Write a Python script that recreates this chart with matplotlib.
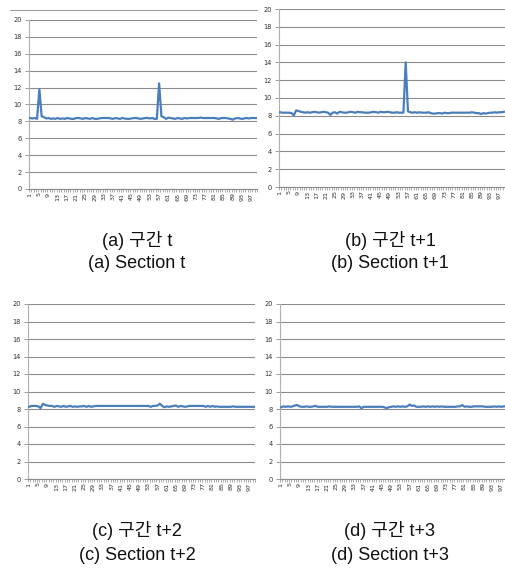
import matplotlib
matplotlib.use("Agg")
import matplotlib.pyplot as plt
from matplotlib.lines import Line2D
import numpy as np

W, H = 506, 569
DPI = 100

x_idx = list(range(1, 100))
tick_labels = [str(i) for i in range(1, 100, 4)]

sec_t = [8.4, 8.35, 8.4, 8.3, 11.8, 8.6, 8.5, 8.35, 8.4, 8.3,
         8.35, 8.3, 8.4, 8.3, 8.35, 8.3, 8.4, 8.35, 8.3, 8.3,
         8.4, 8.4, 8.35, 8.3, 8.4, 8.35, 8.3, 8.4, 8.3, 8.3,
         8.35, 8.4, 8.4, 8.4, 8.4, 8.35, 8.3, 8.4, 8.35, 8.3,
         8.4, 8.35, 8.3, 8.3, 8.35, 8.4, 8.4, 8.35, 8.3, 8.35,
         8.4, 8.4, 8.35, 8.4, 8.3, 8.3, 12.5, 8.6, 8.5, 8.3,
         8.45, 8.4, 8.35, 8.3, 8.4, 8.35, 8.3, 8.4, 8.35, 8.4,
         8.4, 8.4, 8.4, 8.4, 8.45, 8.4, 8.4, 8.4, 8.4, 8.4,
         8.4, 8.35, 8.3, 8.4, 8.4, 8.4, 8.35, 8.3, 8.2, 8.35,
         8.4, 8.35, 8.3, 8.35, 8.4, 8.35, 8.4, 8.4, 8.4]

sec_t1 = [8.4, 8.35, 8.35, 8.35, 8.35, 8.3, 8.05, 8.6, 8.55, 8.45,
          8.4, 8.35, 8.4, 8.35, 8.4, 8.45, 8.4, 8.35, 8.4, 8.45,
          8.4, 8.35, 8.1, 8.35, 8.4, 8.25, 8.45, 8.4, 8.35, 8.35,
          8.4, 8.45, 8.4, 8.35, 8.45, 8.4, 8.4, 8.35, 8.35, 8.35,
          8.4, 8.45, 8.4, 8.35, 8.45, 8.4, 8.4, 8.45, 8.4, 8.35,
          8.35, 8.4, 8.35, 8.35, 8.35, 14.0, 8.5, 8.4, 8.35, 8.4,
          8.35, 8.4, 8.35, 8.35, 8.35, 8.4, 8.3, 8.25, 8.25, 8.3,
          8.3, 8.25, 8.35, 8.3, 8.3, 8.35, 8.35, 8.35, 8.35, 8.35,
          8.35, 8.35, 8.35, 8.35, 8.4, 8.35, 8.3, 8.3, 8.2, 8.3,
          8.25, 8.3, 8.35, 8.35, 8.4, 8.35, 8.4, 8.4, 8.45]

sec_t2 = [8.25, 8.35, 8.35, 8.35, 8.3, 8.1, 8.6, 8.45, 8.4, 8.35,
          8.35, 8.25, 8.35, 8.3, 8.25, 8.35, 8.25, 8.3, 8.35, 8.25,
          8.3, 8.25, 8.3, 8.3, 8.35, 8.25, 8.35, 8.25, 8.3, 8.35,
          8.35, 8.35, 8.35, 8.35, 8.35, 8.35, 8.35, 8.35, 8.35, 8.35,
          8.35, 8.35, 8.35, 8.35, 8.35, 8.35, 8.35, 8.35, 8.35, 8.35,
          8.35, 8.35, 8.35, 8.25, 8.35, 8.35, 8.4, 8.6, 8.35, 8.2,
          8.3, 8.25, 8.3, 8.35, 8.4, 8.25, 8.35, 8.3, 8.25, 8.3,
          8.35, 8.35, 8.35, 8.35, 8.35, 8.35, 8.35, 8.25, 8.35, 8.25,
          8.35, 8.25, 8.3, 8.25, 8.25, 8.25, 8.25, 8.25, 8.25, 8.3,
          8.25, 8.25, 8.25, 8.25, 8.25, 8.25, 8.25, 8.25, 8.25]

sec_t3 = [8.2, 8.3, 8.25, 8.3, 8.25, 8.3, 8.4, 8.45, 8.3, 8.25,
          8.25, 8.3, 8.25, 8.25, 8.3, 8.35, 8.25, 8.25, 8.25, 8.25,
          8.25, 8.3, 8.25, 8.25, 8.25, 8.25, 8.25, 8.25, 8.25, 8.25,
          8.25, 8.25, 8.25, 8.25, 8.3, 8.1, 8.25, 8.25, 8.25, 8.25,
          8.25, 8.25, 8.25, 8.25, 8.25, 8.2, 8.1, 8.2, 8.25, 8.3,
          8.25, 8.3, 8.25, 8.3, 8.25, 8.3, 8.5, 8.35, 8.4, 8.25,
          8.25, 8.25, 8.3, 8.25, 8.3, 8.25, 8.3, 8.25, 8.3, 8.25,
          8.3, 8.25, 8.25, 8.25, 8.25, 8.25, 8.25, 8.3, 8.3, 8.45,
          8.25, 8.3, 8.25, 8.25, 8.3, 8.3, 8.3, 8.3, 8.3, 8.25,
          8.25, 8.25, 8.25, 8.3, 8.25, 8.3, 8.25, 8.3, 8.3]

series = [sec_t, sec_t1, sec_t2, sec_t3]
captions_kr = ["(a) 구간 t", "(b) 구간 t+1", "(c) 구간 t+2", "(d) 구간 t+3"]
captions_en = ["(a) Section t", "(b) Section t+1", "(c) Section t+2", "(d) Section t+3"]

y_ticks = list(range(0, 21, 2))

# axes boxes in pixels: (left, right, top(y=20), bottom(y=0))
boxes = [(29, 257, 20, 189), (279, 505, 9, 187), (28, 255, 304, 479), (280, 507, 304, 479)]
cap_pos = [(137, 241, 264), (390, 241, 264), (137, 531, 555), (390, 531, 555)]

fig = plt.figure(figsize=(W / DPI, H / DPI), dpi=DPI)
fig.patch.set_facecolor("white")

line_color = "#4A7EBB"
grid_color = "#8C8C8C"

for k, (vals, box) in enumerate(zip(series, boxes)):
    l, r, t, b = box
    ax = fig.add_axes([l / W, 1 - b / H, (r - l) / W, (b - t) / H])
    ax.plot(x_idx, vals, color=line_color, lw=1.6, solid_joinstyle="round", zorder=3)
    ax.set_xlim(0.5, 99.5)
    ax.set_ylim(0, 20)
    ax.set_yticks(y_ticks)
    ax.set_yticklabels([str(v) for v in y_ticks])
    ax.yaxis.grid(True, color=grid_color, lw=0.8)
    ax.set_axisbelow(True)
    ax.set_xticks(list(range(1, 100, 4)))
    ax.set_xticklabels(tick_labels, rotation=90)
    ax.set_xticks(np.arange(0.5, 100, 1.0), minor=True)
    ax.tick_params(axis="x", which="major", length=0, labelsize=4.6, pad=2.5, colors="#333333")
    ax.tick_params(axis="x", which="minor", length=2.5, width=0.5, color=grid_color)
    ax.tick_params(axis="y", length=3, width=0.6, color=grid_color, labelsize=4.8,
                   labelcolor="#333333", pad=2)
    for s in ("top", "right"):
        ax.spines[s].set_visible(False)
    ax.spines["left"].set_color("#B0B0B0")
    ax.spines["bottom"].set_color(grid_color)
    ax.spines["left"].set_linewidth(0.8)
    ax.spines["bottom"].set_linewidth(0.8)
    ax.patch.set_alpha(0)

    cx, y1, y2 = cap_pos[k]
    fam = ["Liberation Sans", "Noto Sans CJK KR"]
    fig.text(cx / W, 1 - y1 / H, captions_kr[k], ha="center", va="center",
             fontsize=13, family=fam, color="#111111")
    fig.text(cx / W, 1 - y2 / H, captions_en[k], ha="center", va="center",
             fontsize=13, family=fam, color="#111111")

fig.add_artist(Line2D([10 / W, 257 / W], [1 - 10 / H, 1 - 10 / H], color="#A0A0A0", lw=0.8))

fig.savefig("out.png", dpi=DPI, facecolor="white")
